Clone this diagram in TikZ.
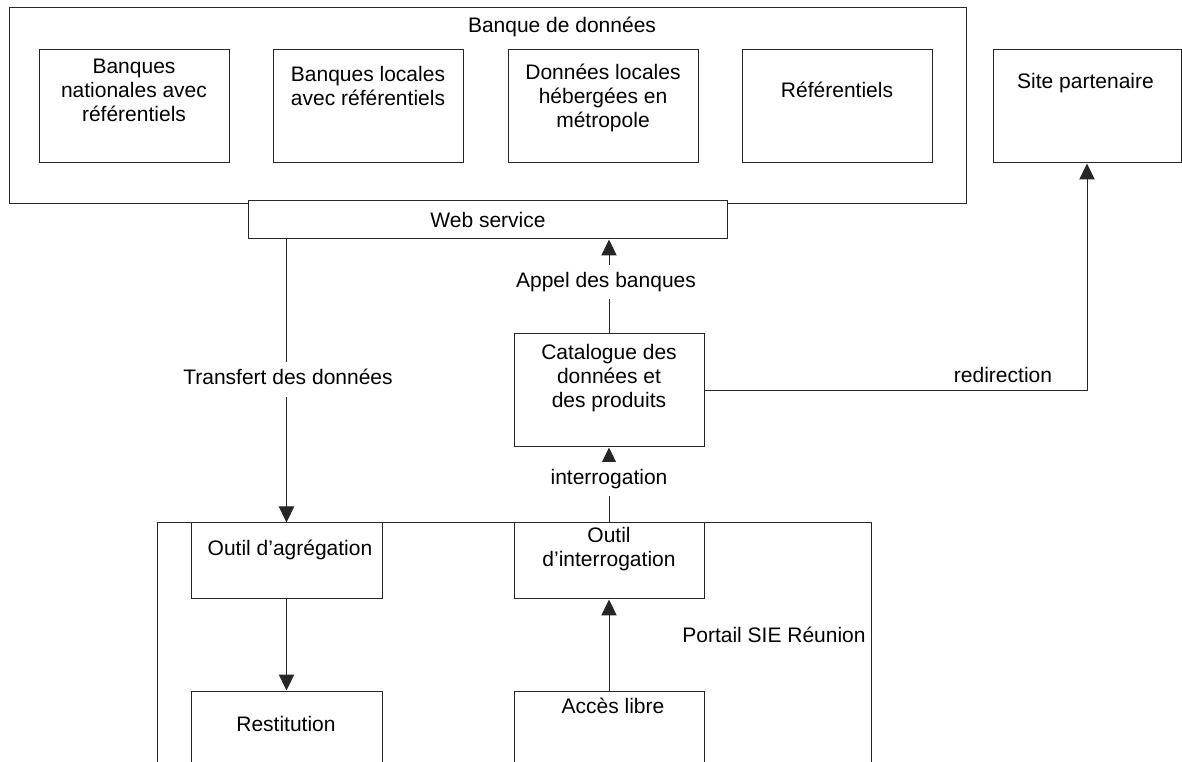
\documentclass[tikz,border=0pt]{standalone}
\usepackage{fontspec}
\setmainfont{Liberation Sans}
\usetikzlibrary{arrows.meta}
\begin{document}
\begin{tikzpicture}[x=0.75pt,y=-0.75pt,
  every node/.style={font=\fontsize{15.75}{18}\selectfont},
  box/.style={draw=black!85, line width=0.75pt, fill=white, inner sep=0pt},
  txt/.style={align=center, inner sep=0pt},
  conn/.style={draw=black!85, line width=0.75pt},
  arr/.style={conn, -{Triangle[length=12pt,width=11.5pt]}},
  lab/.style={fill=white, inner xsep=2pt, inner ysep=5.5pt, text height=11.5pt, text depth=3.5pt}
]
\useasboundingbox (0,0) rectangle (1182,762);
\clip (0,0) rectangle (1182,762);

% Banque de données
\node[box, minimum width=717.75pt, minimum height=147pt] (bank) at (487.5,106) {};
\node[txt] (bankt) at (562,27) {Banque de données};
\node[box, minimum width=142.5pt, minimum height=84.75pt] (b1) at (134,106.5) {};
\node[box, minimum width=142.5pt, minimum height=84.75pt] (b2) at (368,106.5) {};
\node[box, minimum width=142.5pt, minimum height=84.75pt] (b3) at (603,106.5) {};
\node[box, minimum width=142.5pt, minimum height=84.75pt] (b4) at (837,106.5) {};
\node[txt] (b1t) at (134,90) {Banques\\nationales avec\\référentiels};
\node[txt] (b2t) at (368,86) {Banques locales\\avec référentiels};
\node[txt] (b3t) at (603,98) {Données locales\\hébergées en\\métropole};
\node[txt] (b4t) at (837,90) {Référentiels};

% Site partenaire
\node[box, minimum width=141pt, minimum height=84.75pt] (site) at (1087,106.5) {};
\node[txt] (sitet) at (1085.5,83) {Site partenaire};

% Web service
\node[box, minimum width=359.25pt, minimum height=28.5pt] (ws) at (487.5,220) {};
\node[txt] (wst) at (488,220) {Web service};

% Catalogue
\node[box, minimum width=142.5pt, minimum height=84.75pt] (cat) at (609,390.5) {};
\node[txt] (catt) at (609,378.5) {Catalogue des\\données et\\des produits};

% Portail
\node[box, minimum width=535.5pt, minimum height=245.25pt] (portail) at (514,686.5) {};
\node[txt] (portailt) at (774,635) {Portail SIE Réunion};
\node[box, minimum width=143.25pt, minimum height=57pt] (agr) at (286.5,561) {};
\node[txt] (agrt) at (290,550) {Outil d’agrégation};
\node[box, minimum width=142.5pt, minimum height=57pt] (oi) at (609,561) {};
\node[txt] (oit) at (609,549) {Outil\\d’interrogation};
\node[box, minimum width=143.25pt, minimum height=84.75pt] (rest) at (286.5,747.5) {};
\node[txt] (restt) at (286,724) {Restitution};
\node[box, minimum width=142.5pt, minimum height=84.75pt] (al) at (609,747.5) {};
\node[txt] (alt) at (613,706) {Accès libre};

% connectors
\draw[arr] (ws.south -| agr.north) -- (agr.north);
\draw[arr] (cat.north) -- (cat.north |- ws.south);
\draw[arr] (oi.north) -- (cat.south);
\draw[arr] (cat.east) -| (site.south);
\draw[arr] (agr.south) -- (rest.north);
\draw[arr] (al.north) -- (oi.south);

% connector labels
\node[lab] (l1) at (288,379.5) {Transfert des données};
\node[lab] (l2) at (606,282) {Appel des banques};
\node[lab] (l3) at (609,479) {interrogation};
\node[txt] (l4) at (1003,375) {redirection};
\end{tikzpicture}
\end{document}
